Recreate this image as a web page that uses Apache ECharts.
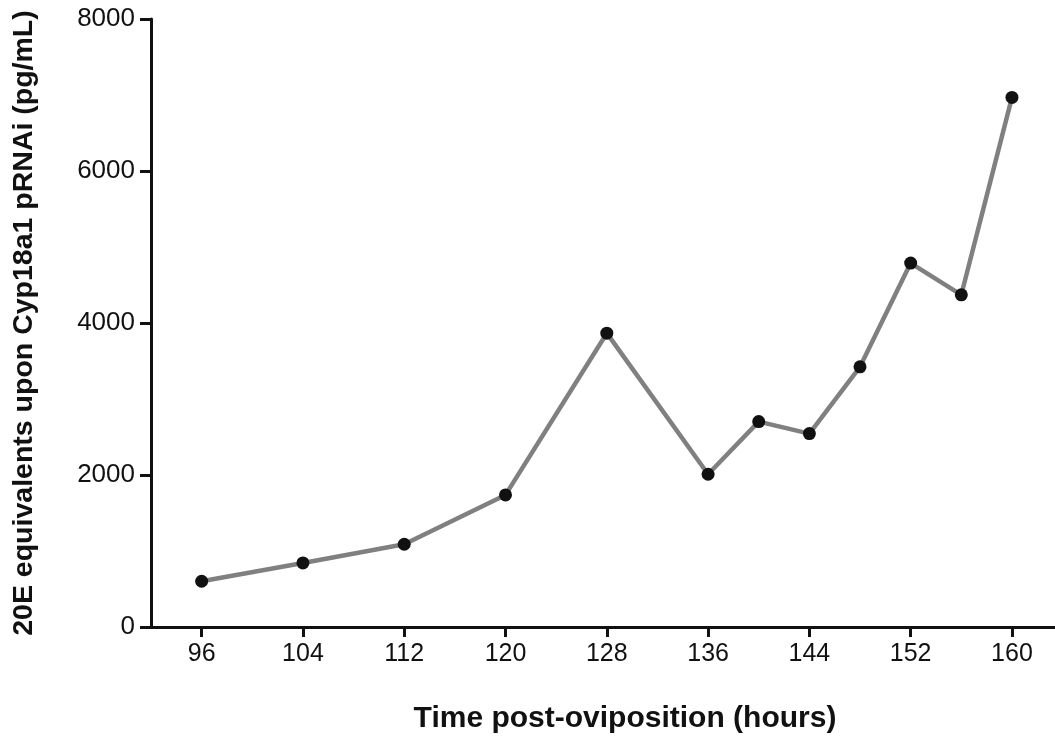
<!DOCTYPE html>
<html>
<head>
<meta charset="utf-8">
<script src="https://cdn.jsdelivr.net/npm/echarts@6/dist/echarts.min.js"></script>
<style>
  html, body { margin: 0; padding: 0; background: #ffffff; }
  #chart { width: 1055px; height: 736px; }
</style>
</head>
<body>
<div id="chart"></div>
<script>
// Sampling times (hours post-oviposition)
const hours = [96, 104, 112, 120, 128, 136, 140, 144, 148, 152, 156, 160];
// 20E equivalents (pg/mL) measured at each time
const ecdysone = [602, 843, 1089, 1738, 3866, 2010, 2703, 2545, 3423, 4788, 4371, 6968];
// Tick positions shown on the axes
const xTicks = [96, 104, 112, 120, 128, 136, 144, 152, 160];
const yTicks = [0, 2000, 4000, 6000, 8000];

const points = hours.map((h, i) => [h, ecdysone[i]]);
const font = 'Liberation Sans, Arial, Helvetica, sans-serif';
const ink = '#111111';

const chart = echarts.init(document.getElementById('chart'), null, { renderer: 'canvas' });
chart.setOption({
  backgroundColor: '#ffffff',
  animation: false,
  title: {
    text: 'Time post-oviposition (hours)',
    left: 620,
    top: 699,
    textAlign: 'center',
    textStyle: { fontFamily: font, fontWeight: 'bold', fontSize: 30, color: ink }
  },
  grid: { left: 151, top: 19, right: 0, bottom: 109, containLabel: false },
  xAxis: {
    type: 'value',
    min: 92,
    max: 163.4,
    splitLine: { show: false },
    axisLine: { show: true, onZero: false, lineStyle: { color: ink, width: 3 } },
    axisTick: { show: true, customValues: xTicks, length: 10, lineStyle: { color: ink, width: 3 } },
    axisLabel: { customValues: xTicks, margin: 15, fontFamily: font, fontSize: 25, color: ink }
  },
  yAxis: {
    type: 'value',
    min: 0,
    max: 8000,
    interval: 2000,
    name: '20E equivalents upon Cyp18a1 pRNAi (pg/mL)',
    nameLocation: 'middle',
    nameGap: 112,
    nameTextStyle: { fontFamily: font, fontWeight: 'bold', fontSize: 28.5, color: ink },
    splitLine: { show: false },
    axisLine: { show: true, lineStyle: { color: ink, width: 3 } },
    axisTick: { show: true, customValues: yTicks, length: 11, lineStyle: { color: ink, width: 3 } },
    axisLabel: {
      customValues: yTicks, margin: 16, fontFamily: font, fontSize: 26, color: ink,
      formatter: (v) => String(v)
    }
  },
  series: [{
    type: 'line',
    data: points,
    symbol: 'circle',
    symbolSize: 13,
    itemStyle: { color: ink },
    lineStyle: { color: '#808080', width: 4.5 },
    z: 3
  }]
});
</script>
</body>
</html>
